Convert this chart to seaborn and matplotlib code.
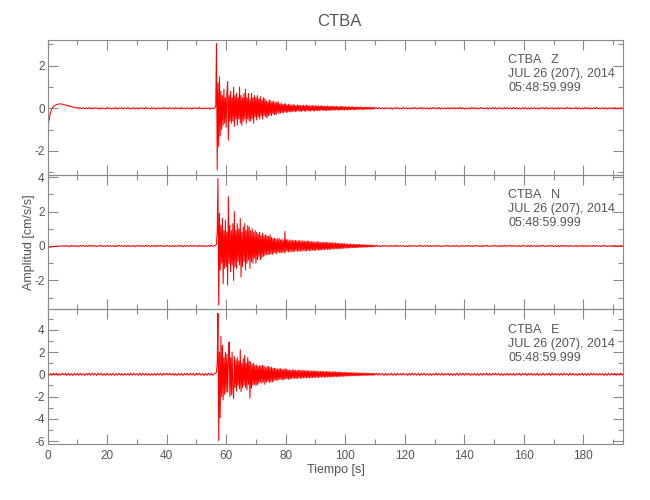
import numpy as np
import pandas as pd
import matplotlib
matplotlib.use("Agg")
import matplotlib.pyplot as plt
import seaborn as sns
from matplotlib.ticker import MultipleLocator

sns.set_style("ticks")
plt.rcParams["font.family"] = ["Liberation Sans", "DejaVu Sans"]
plt.rcParams["axes.unicode_minus"] = False

# ---------------- data ----------------
station = "CTBA"
components = ["Z", "N", "E"]
date_text = "JUL 26 (207), 2014"
time_text = "05:48:59.999"
x_label = "Tiempo [s]"
y_label = "Amplitud [cm/s/s]"

# sampling of the three segments of each trace (seconds)
pre_start, pre_dt = 0.0, 0.5      # 0 .. 56 s
coda_start, coda_dt = 56.25, 0.25  # 56.25 .. 110 s
tail_start, tail_dt = 110.5, 0.5   # 110.5 .. 193.5 s

# ---- Z component ----
z_pre = [-0.92, -0.55, -0.2, 0.0, 0.08, 0.13, 0.17, 0.19, 0.21, 0.2,
         0.2, 0.16, 0.17, 0.12, 0.13, 0.08, 0.09, 0.04, 0.06, 0.01,
         0.04, -0.01, 0.03, -0.02, 0.03, -0.03, 0.02, -0.02, 0.04, -0.03,
         0.02, -0.03, 0.03, -0.01, 0.02, -0.04, 0.03, -0.02, 0.01, -0.03,
         0.04, -0.02, 0.02, -0.03, 0.01, -0.02, 0.03, -0.04, 0.02, -0.01,
         0.03, -0.03, 0.02, -0.02, 0.04, -0.03, 0.01, -0.02, 0.03, -0.03,
         0.02, -0.04, 0.03, -0.01, 0.02, -0.03, 0.04, -0.02, 0.01, -0.03,
         0.03, -0.02, 0.02, -0.04, 0.03, -0.02, 0.01, -0.03, 0.04, -0.02,
         0.02, -0.03, 0.03, -0.01, 0.02, -0.04, 0.03, -0.02, 0.02, -0.03,
         0.04, -0.02, 0.01, -0.03, 0.03, -0.02, 0.02, -0.04, 0.03, -0.01,
         0.02, -0.03, 0.04, -0.02, 0.01, -0.03, 0.03, -0.02, 0.02, -0.04,
         0.03, -0.02, 0.02]
z_coda = [0.02, 0.1, 3.05, -2.9, 1.2, -1.8, 1.48, -1.3,
          0.8, -1.0, 0.6, -0.8, 0.9, -0.7, 0.5, -0.9,
          0.7, 1.25, -1.5, 0.6, -0.6, 0.8, -0.7, 0.5,
          -0.6, 1.0, -0.85, 0.6, -0.5, 0.7, -0.8, 0.5,
          -0.5, 1.0, -0.7, 0.6, -0.8, 0.5, -0.6, 0.7,
          -0.5, 0.9, -0.7, 0.5, -0.5, 0.7, -0.6, 0.4,
          -0.6, 0.7, -0.5, 0.5, -0.7, 0.6, -0.4, 0.5,
          -0.55, 0.6, -0.4, 0.45, -0.5, 0.55, -0.35, 0.4,
          -0.5, 0.5, -0.35, 0.45, -0.4, 0.35, -0.45, 0.3,
          -0.35, 0.4, -0.3, 0.35, -0.35, 0.3, -0.25, 0.35,
          -0.3, 0.25, -0.3, 0.3, -0.2, 0.3, -0.25, 0.2,
          -0.22, 0.25, -0.2, 0.18, -0.22, 0.2, -0.15, 0.22,
          -0.2, 0.15, -0.18, 0.2, -0.15, 0.16, -0.18, 0.14,
          -0.15, 0.18, -0.13, 0.15, -0.16, 0.12, -0.14, 0.16,
          -0.12, 0.15, -0.14, 0.12, -0.15, 0.13, -0.11, 0.14,
          -0.13, 0.12, -0.14, 0.15, -0.1, 0.13, -0.12, 0.11,
          -0.14, 0.12, -0.1, 0.13, -0.12, 0.1, -0.13, 0.12,
          -0.1, 0.12, -0.11, 0.1, -0.12, 0.11, -0.09, 0.12,
          -0.1, 0.11, -0.09, 0.1, -0.11, 0.09, -0.1, 0.11,
          -0.09, 0.1, -0.1, 0.08, -0.09, 0.1, -0.08, 0.09,
          -0.09, 0.08, -0.08, 0.09, -0.07, 0.08, -0.09, 0.07,
          -0.08, 0.09, -0.07, 0.08, -0.08, 0.07, -0.08, 0.08,
          -0.07, 0.06, -0.08, 0.07, -0.06, 0.07, -0.07, 0.06,
          -0.06, 0.07, -0.06, 0.05, -0.07, 0.06, -0.05, 0.06,
          -0.06, 0.05, -0.05, 0.06, -0.05, 0.05, -0.06, 0.04,
          -0.05, 0.05, -0.04, 0.05, -0.05, 0.04, -0.04, 0.05,
          -0.04, 0.04, -0.05, 0.04, -0.03, 0.04, -0.04, 0.03]
z_tail = [0.03, -0.02, 0.04, -0.03, 0.02, -0.04, 0.03, -0.01, 0.03, -0.03,
          0.02, -0.04, 0.03, -0.02, 0.04, -0.03, 0.01, -0.03, 0.04, -0.02,
          0.03, -0.03, 0.02, -0.04, 0.03, -0.02, 0.04, -0.03, 0.02, -0.02,
          0.04, -0.03, 0.03, -0.02, 0.02, -0.04, 0.03, -0.03, 0.04, -0.01,
          0.02, -0.03, 0.04, -0.04, 0.03, -0.02, 0.02, -0.03, 0.03, -0.04,
          0.03, -0.02, 0.04, -0.03, 0.02, -0.03, 0.04, -0.02, 0.03, -0.04,
          0.02, -0.03, 0.03, -0.04, 0.04, -0.02, 0.03, -0.03, 0.02, -0.03,
          0.04, -0.02, 0.02, -0.03, 0.03, -0.04, 0.02, -0.02, 0.04, -0.03,
          0.03, -0.04, 0.03, -0.02, 0.02, -0.03, 0.04, -0.03, 0.03, -0.02,
          0.02, -0.03, 0.04, -0.02, 0.03, -0.04, 0.02, -0.03, 0.03, -0.03,
          0.04, -0.03, 0.02, -0.04, 0.03, -0.02, 0.03, -0.03, 0.02, -0.04,
          0.03, -0.02, 0.03, -0.03, 0.04, -0.03, 0.02, -0.02, 0.03, -0.04,
          0.02, -0.04, 0.04, -0.03, 0.03, -0.02, 0.02, -0.03, 0.04, -0.02,
          0.03, -0.03, 0.02, -0.02, 0.04, -0.04, 0.03, -0.03, 0.02, -0.03,
          0.04, -0.02, 0.03, -0.04, 0.02, -0.03, 0.03, -0.02, 0.04, -0.03,
          0.02, -0.03, 0.03, -0.03, 0.03, -0.04, 0.02, -0.02, 0.03, -0.03,
          0.04, -0.03, 0.02, -0.03, 0.03, -0.02, 0.03]

# ---- N component ----
n_pre = [-0.1, -0.08, -0.06, -0.05, -0.03, -0.03, -0.01, -0.02, 0.01, -0.02,
         0.02, -0.03, 0.03, -0.02, 0.02, -0.04, 0.03, -0.02, 0.03, -0.03,
         0.02, -0.04, 0.03, -0.02, 0.04, -0.03, 0.02, -0.03, 0.04, -0.02,
         0.03, -0.03, 0.02, -0.04, 0.03, -0.02, 0.04, -0.03, 0.02, -0.03,
         0.04, -0.03, 0.03, -0.02, 0.02, -0.04, 0.03, -0.03, 0.04, -0.02,
         0.02, -0.03, 0.04, -0.04, 0.03, -0.02, 0.02, -0.03, 0.03, -0.04,
         0.03, -0.02, 0.04, -0.03, 0.02, -0.03, 0.04, -0.02, 0.03, -0.04,
         0.02, -0.03, 0.03, -0.04, 0.04, -0.02, 0.03, -0.03, 0.02, -0.03,
         0.04, -0.02, 0.02, -0.03, 0.03, -0.04, 0.02, -0.02, 0.04, -0.03,
         0.03, -0.04, 0.03, -0.02, 0.02, -0.03, 0.04, -0.03, 0.03, -0.02,
         0.02, -0.03, 0.04, -0.02, 0.03, -0.04, 0.02, -0.03, 0.03, -0.03,
         0.04, -0.03, 0.02]
n_coda = [0.02, 0.05, 0.1, 0.8, 3.93, -3.43, 1.9, -1.4,
          1.2, -1.0, 1.6, -2.2, 0.9, -1.3, 1.5, -1.2,
          0.8, -2.27, 2.87, -1.0, 1.2, -1.5, 0.9, -1.1,
          1.3, -2.0, 2.0, -1.2, 0.9, -1.3, 1.3, -0.9,
          1.0, -1.1, 1.6, -1.8, 0.8, -1.2, 1.1, -0.9,
          1.3, -1.4, 0.9, -1.0, 1.2, -0.8, 1.1, -1.3,
          0.9, -0.9, 1.0, -1.0, 0.8, -0.7, 0.9, -1.0,
          0.8, -0.8, 0.7, -0.6, 0.8, -0.8, 0.6, -0.7,
          0.75, -0.6, 0.6, -0.55, 0.65, -0.5, 0.6, -0.5,
          0.55, -0.5, 0.65, -0.45, 0.5, -0.5, 0.45, -0.4,
          0.45, -0.4, 0.4, -0.45, 0.4, -0.35, 0.45, -0.4,
          0.35, -0.4, 0.4, -0.35, 0.3, -0.4, 0.85, -0.35,
          0.35, -0.3, 0.38, -0.35, 0.3, -0.33, 0.35, -0.3,
          0.32, -0.35, 0.3, -0.3, 0.33, -0.28, 0.3, -0.32,
          0.3, -0.28, 0.32, -0.3, 0.27, -0.3, 0.3, -0.25,
          0.28, -0.3, 0.25, -0.28, 0.3, -0.25, 0.27, -0.27,
          0.25, -0.27, 0.26, -0.24, 0.25, -0.26, 0.22, -0.25,
          0.24, -0.22, 0.25, -0.23, 0.22, -0.24, 0.2, -0.22,
          0.22, -0.2, 0.21, -0.22, 0.2, -0.19, 0.22, -0.2,
          0.19, -0.2, 0.18, -0.19, 0.2, -0.17, 0.18, -0.18,
          0.17, -0.16, 0.18, -0.15, 0.16, -0.16, 0.15, -0.15,
          0.14, -0.15, 0.13, -0.14, 0.15, -0.13, 0.13, -0.12,
          0.12, -0.12, 0.11, -0.12, 0.1, -0.11, 0.11, -0.1,
          0.1, -0.1, 0.09, -0.1, 0.1, -0.09, 0.08, -0.09,
          0.08, -0.08, 0.09, -0.07, 0.08, -0.08, 0.07, -0.07,
          0.07, -0.06, 0.07, -0.07, 0.06, -0.06, 0.06, -0.05,
          0.05, -0.05, 0.06, -0.05, 0.04, -0.05, 0.04, -0.04]
n_tail = [0.04, -0.03, 0.02, -0.04, 0.03, -0.02, 0.03, -0.03, 0.02, -0.04,
          0.03, -0.02, 0.03, -0.03, 0.04, -0.03, 0.02, -0.02, 0.03, -0.04,
          0.02, -0.04, 0.04, -0.03, 0.03, -0.02, 0.02, -0.03, 0.04, -0.02,
          0.03, -0.03, 0.02, -0.02, 0.04, -0.04, 0.03, -0.03, 0.02, -0.03,
          0.04, -0.02, 0.03, -0.04, 0.02, -0.03, 0.03, -0.02, 0.04, -0.03,
          0.02, -0.03, 0.03, -0.03, 0.03, -0.04, 0.02, -0.02, 0.03, -0.03,
          0.03, -0.02, 0.04, -0.03, 0.02, -0.04, 0.03, -0.01, 0.03, -0.03,
          0.02, -0.04, 0.03, -0.02, 0.04, -0.03, 0.01, -0.03, 0.04, -0.02,
          0.03, -0.03, 0.02, -0.04, 0.03, -0.02, 0.04, -0.03, 0.02, -0.02,
          0.04, -0.03, 0.03, -0.02, 0.02, -0.04, 0.03, -0.03, 0.04, -0.01,
          0.02, -0.03, 0.04, -0.04, 0.03, -0.02, 0.02, -0.03, 0.03, -0.04,
          0.03, -0.02, 0.04, -0.03, 0.02, -0.03, 0.04, -0.02, 0.03, -0.04,
          0.02, -0.03, 0.03, -0.04, 0.04, -0.02, 0.03, -0.03, 0.02, -0.03,
          0.04, -0.02, 0.02, -0.03, 0.03, -0.04, 0.02, -0.02, 0.04, -0.03,
          0.03, -0.04, 0.03, -0.02, 0.02, -0.03, 0.04, -0.03, 0.03, -0.02,
          0.02, -0.03, 0.04, -0.02, 0.03, -0.04, 0.02, -0.03, 0.03, -0.03,
          0.03, -0.04, 0.02, -0.03, 0.04, -0.02, 0.03]

# ---- E component ----
e_pre = [0.08, -0.1, 0.06, -0.09, 0.1, -0.07, 0.09, -0.1, 0.07, -0.08,
         0.1, -0.06, 0.09, -0.1, 0.08, -0.09, 0.06, -0.1, 0.09, -0.07,
         0.07, -0.09, 0.1, -0.08, 0.06, -0.1, 0.09, -0.07, 0.1, -0.09,
         0.09, -0.07, 0.08, -0.1, 0.1, -0.06, 0.08, -0.09, 0.07, -0.1,
         0.1, -0.08, 0.07, -0.09, 0.09, -0.1, 0.06, -0.08, 0.1, -0.07,
         0.08, -0.1, 0.09, -0.07, 0.07, -0.09, 0.1, -0.08, 0.08, -0.06,
         0.06, -0.09, 0.1, -0.1, 0.08, -0.07, 0.09, -0.09, 0.07, -0.1,
         0.09, -0.08, 0.06, -0.09, 0.1, -0.07, 0.08, -0.1, 0.09, -0.06,
         0.1, -0.07, 0.09, -0.08, 0.07, -0.1, 0.08, -0.09, 0.06, -0.08,
         0.07, -0.1, 0.08, -0.06, 0.09, -0.09, 0.1, -0.07, 0.08, -0.1,
         0.09, -0.06, 0.1, -0.08, 0.06, -0.1, 0.07, -0.09, 0.1, -0.08,
         0.08, -0.09, 0.07]
e_coda = [0.05, 0.1, 0.2, 1.0, 5.47, -5.95, 2.0, -3.9,
          3.4, -2.0, 2.6, -2.3, 1.5, -1.8, 2.0, -1.6,
          1.8, -1.6, 1.2, 2.9, -2.0, 1.5, -1.85, 2.0,
          -1.4, -2.15, 1.6, -1.2, 1.3, -1.5, 1.5, -1.0,
          1.2, -1.3, 2.2, -1.55, 1.0, -1.2, 1.4, -1.0,
          1.7, -1.2, 1.0, -1.4, 1.5, -0.9, 1.2, -2.15,
          1.1, -1.25, 0.9, -1.0, 1.0, -0.9, 0.8, -1.0,
          0.85, -0.95, 0.7, -0.8, 0.8, -0.7, 0.75, -0.8,
          0.8, -0.7, 0.75, -0.9, 0.6, -0.7, 0.7, -0.6,
          0.7, -0.75, 0.6, -0.65, 0.65, -0.7, 0.55, -0.6,
          0.55, -0.5, 0.5, -0.55, 0.45, -0.5, 0.5, -0.45,
          0.5, -0.45, 0.45, -0.5, 0.4, -0.45, 0.5, -0.4,
          0.45, -0.4, 0.4, -0.45, 0.38, -0.4, 0.35, -0.38,
          0.4, -0.35, 0.38, -0.35, 0.36, -0.38, 0.33, -0.35,
          0.35, -0.33, 0.37, -0.35, 0.32, -0.34, 0.35, -0.3,
          0.33, -0.32, 0.3, -0.33, 0.34, -0.3, 0.31, -0.32,
          0.3, -0.31, 0.29, -0.3, 0.3, -0.28, 0.3, -0.28,
          0.28, -0.27, 0.27, -0.28, 0.26, -0.27, 0.27, -0.25,
          0.26, -0.25, 0.25, -0.26, 0.24, -0.25, 0.25, -0.23,
          0.24, -0.23, 0.23, -0.24, 0.22, -0.23, 0.22, -0.21,
          0.22, -0.2, 0.21, -0.22, 0.2, -0.2, 0.19, -0.2,
          0.19, -0.18, 0.18, -0.19, 0.17, -0.18, 0.17, -0.16,
          0.16, -0.16, 0.15, -0.16, 0.15, -0.14, 0.15, -0.14,
          0.14, -0.13, 0.14, -0.13, 0.12, -0.13, 0.13, -0.12,
          0.12, -0.12, 0.11, -0.12, 0.11, -0.1, 0.11, -0.1,
          0.1, -0.1, 0.1, -0.09, 0.1, -0.09, 0.09, -0.09,
          0.09, -0.08, 0.08, -0.09, 0.08, -0.08, 0.08, -0.07]
e_tail = [0.09, -0.08, 0.1, -0.07, 0.07, -0.1, 0.08, -0.09, 0.06, -0.08,
          0.1, -0.09, 0.07, -0.1, 0.09, -0.06, 0.08, -0.08, 0.1, -0.07,
          0.06, -0.1, 0.09, -0.08, 0.1, -0.07, 0.07, -0.09, 0.08, -0.1,
          0.08, -0.06, 0.1, -0.09, 0.07, -0.08, 0.09, -0.1, 0.06, -0.07,
          0.1, -0.08, 0.08, -0.07, 0.09, -0.1, 0.07, -0.06, 0.1, -0.09,
          0.07, -0.1, 0.06, -0.08, 0.1, -0.09, 0.08, -0.07, 0.09, -0.08,
          0.09, -0.07, 0.1, -0.1, 0.06, -0.08, 0.08, -0.09, 0.07, -0.1,
          0.08, -0.09, 0.07, -0.06, 0.1, -0.08, 0.09, -0.1, 0.08, -0.07,
          0.1, -0.06, 0.08, -0.09, 0.07, -0.1, 0.06, -0.08, 0.09, -0.09,
          0.07, -0.08, 0.09, -0.1, 0.08, -0.07, 0.1, -0.09, 0.07, -0.06,
          0.09, -0.1, 0.08, -0.07, 0.1, -0.09, 0.06, -0.08, 0.08, -0.1,
          0.06, -0.08, 0.1, -0.09, 0.07, -0.07, 0.09, -0.1, 0.1, -0.08,
          0.08, -0.07, 0.07, -0.1, 0.09, -0.08, 0.08, -0.06, 0.06, -0.09,
          0.1, -0.09, 0.09, -0.08, 0.06, -0.1, 0.07, -0.07, 0.1, -0.08,
          0.07, -0.1, 0.08, -0.09, 0.1, -0.06, 0.09, -0.08, 0.07, -0.09,
          0.09, -0.07, 0.06, -0.1, 0.08, -0.09, 0.1, -0.08, 0.08, -0.07,
          0.08, -0.09, 0.07, -0.08, 0.1, -0.07, 0.09]

traces = {"Z": (z_pre, z_coda, z_tail),
          "N": (n_pre, n_coda, n_tail),
          "E": (e_pre, e_coda, e_tail)}

y_limits = {"Z": (-3.12, 3.21), "N": (-3.68, 4.15), "E": (-6.25, 5.83)}
x_limits = (0, 193.4)

# ---------------- figure ----------------
TEXT = "#555555"
AXC = "#8a8a8a"
fig = plt.figure(figsize=(6.5, 5), dpi=100)

left, width, height = 0.0731, 0.8858, 0.2694
bottoms = [0.6506, 0.3814, 0.112]


def build_frame(pre, coda, tail):
    t = np.concatenate([pre_start + pre_dt * np.arange(len(pre)),
                        coda_start + coda_dt * np.arange(len(coda)),
                        tail_start + tail_dt * np.arange(len(tail))])
    a = np.concatenate([pre, coda, tail])
    return pd.DataFrame({"t": t, "amp": a})


for i, comp in enumerate(components):
    ax = fig.add_axes([left, bottoms[i], width, height])
    df = build_frame(*traces[comp])
    sns.lineplot(data=df, x="t", y="amp", ax=ax, color="#ff0000",
                 linewidth=0.75, estimator=None, sort=False)
    ax.set_xlim(*x_limits)
    ax.set_ylim(*y_limits[comp])
    ax.set_xlabel("")
    ax.set_ylabel("")
    ax.xaxis.set_major_locator(MultipleLocator(20))
    ax.xaxis.set_minor_locator(MultipleLocator(10))
    ax.yaxis.set_major_locator(MultipleLocator(2))
    ax.yaxis.set_minor_locator(MultipleLocator(1))
    ax.tick_params(which="both", direction="in", top=True, right=True,
                   color=AXC, labelcolor=TEXT, labelsize=8.5, width=0.8)
    ax.tick_params(which="major", length=7)
    ax.tick_params(which="minor", length=3.5)
    ax.tick_params(axis="y", pad=2)
    ax.tick_params(axis="x", pad=4)
    for s in ax.spines.values():
        s.set_color(AXC)
        s.set_linewidth(0.8)
    if i < 2:
        ax.tick_params(labelbottom=False)
    ax.patch.set_alpha(0)
    ax.text(0.80, 0.848, f"{station}   {comp}", transform=ax.transAxes,
            fontsize=9, color=TEXT, va="center", ha="left")
    ax.text(0.80, 0.745, date_text, transform=ax.transAxes,
            fontsize=9, color=TEXT, va="center", ha="left")
    ax.text(0.80, 0.641, time_text, transform=ax.transAxes,
            fontsize=9, color=TEXT, va="center", ha="left")

fig.text(0.522, 0.958, station, ha="center", va="center", fontsize=12, color=TEXT)
fig.text(0.517, 0.06, x_label, ha="center", va="center", fontsize=9, color=TEXT)
fig.text(0.045, 0.516, y_label, ha="center", va="center", rotation=90,
         fontsize=9, color=TEXT)

fig.savefig("out.png", dpi=100)
